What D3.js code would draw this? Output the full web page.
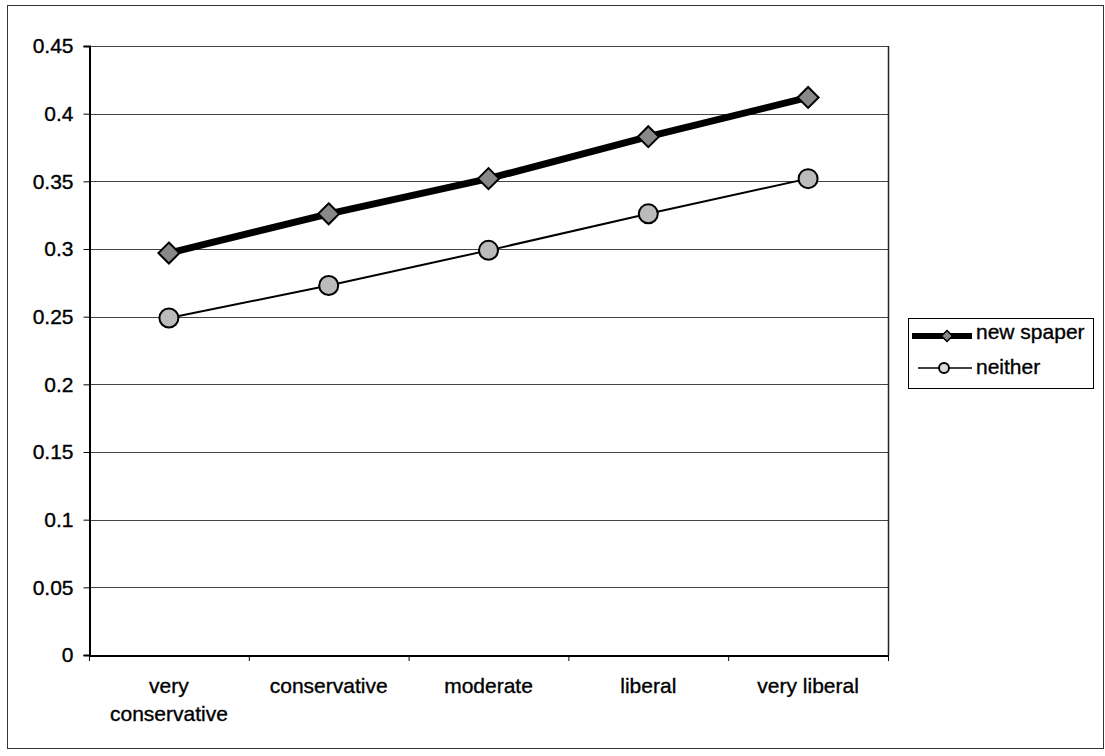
<!DOCTYPE html>
<html><head><meta charset="utf-8">
<script src="https://cdn.jsdelivr.net/npm/d3@7"></script>
<style>body{margin:0;background:#fff}svg{display:block}text{font-family:"Liberation Sans",Arial,sans-serif;fill:#000;stroke:#000;stroke-width:0.35px}</style>
</head><body>
<svg id="c" width="1105" height="756"></svg>
<script>
const categories = ["very conservative","conservative","moderate","liberal","very liberal"];
const categoryLines = [["very","conservative"],["conservative"],["moderate"],["liberal"],["very liberal"]];
const newspaper = [0.297, 0.326, 0.352, 0.383, 0.412];
const neither = [0.249, 0.273, 0.299, 0.326, 0.352];
const yTicks = [0,0.05,0.1,0.15,0.2,0.25,0.3,0.35,0.4,0.45];
const seriesNames = ["new spaper","neither"];

const FS = "21px";
const svg = d3.select("#c");
svg.append("rect").attr("x",7.5).attr("y",5.5).attr("width",1096).attr("height",743)
  .attr("fill","#fff").attr("stroke","#333").attr("stroke-width",1);

const L=89,R=888,T=46,B=655;
const x = d3.scaleBand().domain(categories).range([L,R]);
const y = d3.scaleLinear().domain([0,0.45]).range([B,T]);

// gridlines
svg.append("g").selectAll("line").data(yTicks.filter(d=>d>0)).join("line")
  .attr("x1",L).attr("x2",R).attr("y1",d=>Math.round(y(d))+0.5).attr("y2",d=>Math.round(y(d))+0.5)
  .attr("stroke","#444").attr("stroke-width",1);
// right border
svg.append("line").attr("x1",R+0.5).attr("x2",R+0.5).attr("y1",T).attr("y2",B).attr("stroke","#222").attr("stroke-width",1.5);

// y axis
const ya = svg.append("g").attr("transform",`translate(${L+0.5},0)`)
  .call(d3.axisLeft(y).tickValues(yTicks).tickFormat(d=>d3.format("")(+d.toFixed(2))).tickSize(6).tickPadding(10));
ya.select(".domain").attr("stroke","#000").attr("stroke-width",2);
ya.selectAll(".tick line").attr("stroke","#000");
ya.selectAll("text").style("font-size",FS).style("font-family","'Liberation Sans',Arial,sans-serif");

// x axis
const xa = svg.append("g").attr("transform",`translate(0,${B+0.5})`)
  .call(d3.axisBottom(x).tickSize(0).tickFormat(""));
xa.select(".domain").attr("stroke","#000").attr("stroke-width",2);
const bounds = categories.map(c=>x(c)).concat([R]);
svg.append("g").selectAll("line").data(bounds).join("line")
  .attr("x1",d=>d+0.5).attr("x2",d=>d+0.5).attr("y1",B).attr("y2",B+6).attr("stroke","#000");
svg.append("g").selectAll("text").data(categories).join("text")
  .attr("x",d=>x(d)+x.bandwidth()/2).attr("y",B+38)
  .attr("text-anchor","middle").style("font-size",FS)
  .each(function(d,i){
    const t=d3.select(this);
    categoryLines[i].forEach((s,j)=>t.append("tspan").attr("x",x(d)+x.bandwidth()/2).attr("dy",j?28:0).text(s));
  });

const cx = c=>x(c)+x.bandwidth()/2;
const line = d3.line().x((d,i)=>cx(categories[i])).y(d=>y(d));
svg.append("path").datum(neither).attr("d",line).attr("fill","none").attr("stroke","#000").attr("stroke-width",2);
svg.append("path").datum(newspaper).attr("d",line).attr("fill","none").attr("stroke","#000").attr("stroke-width",7);

const diamond = (g,px,py,s)=>g.append("path").attr("d",`M${px},${py-s}L${px+s},${py}L${px},${py+s}L${px-s},${py}Z`)
  .attr("fill","#888").attr("stroke","#000").attr("stroke-width",2);
const circ = (g,px,py,r)=>g.append("circle").attr("cx",px).attr("cy",py).attr("r",r)
  .attr("fill","#bbb").attr("stroke","#000").attr("stroke-width",2);

const mk = svg.append("g");
neither.forEach((v,i)=>circ(mk,cx(categories[i]),y(v),9.5));
newspaper.forEach((v,i)=>diamond(mk,cx(categories[i]),y(v),10.5));

// legend
const lg = svg.append("g");
lg.append("rect").attr("x",908.5).attr("y",318.5).attr("width",185).attr("height",70).attr("fill","#fff").attr("stroke","#000");
const ly=[336,368];
lg.append("line").attr("x1",912).attr("x2",972).attr("y1",ly[0]).attr("y2",ly[0]).attr("stroke","#000").attr("stroke-width",6);
diamond(lg,947,ly[0],5.5).attr("stroke-width",1.5);
lg.append("line").attr("x1",918).attr("x2",972).attr("y1",ly[1]).attr("y2",ly[1]).attr("stroke","#000").attr("stroke-width",1.5);
circ(lg,944,ly[1],5).attr("fill","#ddd").attr("stroke-width",2);
seriesNames.forEach((n,i)=>lg.append("text").attr("x",976).attr("y",ly[i]+3+[0,2][i]+ (i?1:0)).style("font-size",FS).text(n));
</script>
</body></html>
